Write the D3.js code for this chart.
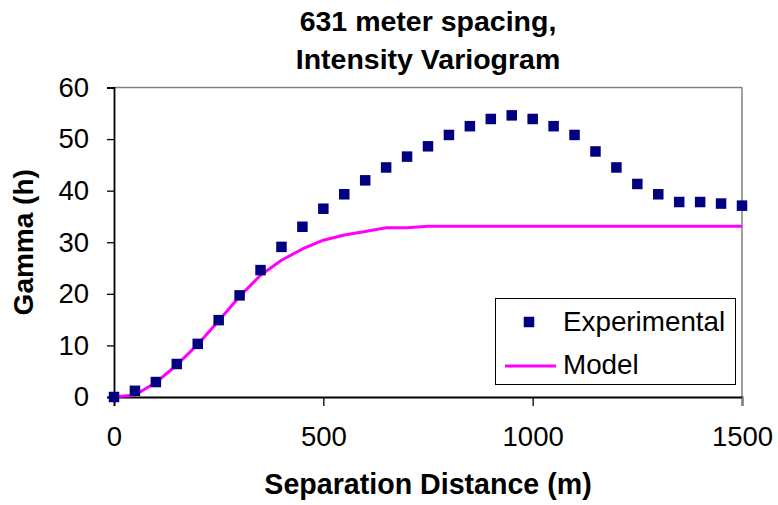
<!DOCTYPE html>
<html>
<head>
<meta charset="utf-8">
<script src="https://cdn.jsdelivr.net/npm/d3@7"></script>
<style>
  html, body { margin: 0; padding: 0; background: #fff; }
  svg { display: block; font-family: "Liberation Sans", Arial, sans-serif; }
</style>
</head>
<body>
<svg id="chart" width="778" height="505"></svg>
<script>
// Lag distances (m) at which the variogram was evaluated
const lags = [0, 50, 100, 150, 200, 250, 300, 350, 400, 450, 500, 550, 600, 650, 700, 750,
              800, 850, 900, 950, 1000, 1050, 1100, 1150, 1200, 1250, 1300, 1350, 1400, 1450, 1500];

// Experimental semivariance gamma(h)
const experimental = [0, 1.2, 2.9, 6.4, 10.3, 14.9, 19.7, 24.6, 29.1, 33.0, 36.5, 39.3, 42.0, 44.5, 46.6, 48.6,
                      50.8, 52.5, 53.9, 54.6, 53.9, 52.5, 50.8, 47.6, 44.5, 41.3, 39.3, 37.8, 37.8, 37.5, 37.1];

// Fitted model gamma(h)
const model = [0, 0.4, 2.8, 6.2, 10.2, 14.8, 19.5, 23.6, 26.5, 28.7, 30.4, 31.4, 32.1, 32.8, 32.8, 33.1,
               33.1, 33.1, 33.1, 33.1, 33.1, 33.1, 33.1, 33.1, 33.1, 33.1, 33.1, 33.1, 33.1, 33.1, 33.1];

const xTicks = [0, 500, 1000, 1500];
const yTicks = [0, 10, 20, 30, 40, 50, 60];
const titleLines = ["631 meter spacing,", "Intensity Variogram"];
const seriesNames = ["Experimental", "Model"];

const svg = d3.select("#chart");
const plot = { left: 114, right: 742, top: 87.5, bottom: 397 };

const x = d3.scaleLinear().domain([0, 1500]).range([plot.left, plot.right]);
const y = d3.scaleLinear().domain([0, 60]).range([plot.bottom, plot.top]);

const navy = "#000080";
const magenta = "#ff00ff";

// Plot frame: grey top/right edges
svg.append("line").attr("x1", plot.left).attr("x2", plot.right)
  .attr("y1", plot.top).attr("y2", plot.top)
  .attr("stroke", "#808080").attr("stroke-width", 1.5);
svg.append("line").attr("x1", plot.right).attr("x2", plot.right)
  .attr("y1", plot.top).attr("y2", plot.bottom)
  .attr("stroke", "#808080").attr("stroke-width", 1.5);

// Axes
const xAxis = svg.append("g")
  .attr("transform", `translate(0,${plot.bottom})`)
  .call(d3.axisBottom(x).tickValues(xTicks).tickSize(9).tickPadding(20).tickFormat(d3.format("d")));
const yAxis = svg.append("g")
  .attr("transform", `translate(${plot.left},0)`)
  .call(d3.axisLeft(y).tickValues(yTicks).tickSize(7).tickPadding(18).tickFormat(d3.format("d")));

[xAxis, yAxis].forEach(g => {
  g.select(".domain").attr("stroke", "#000").attr("stroke-width", 1.8);
  g.selectAll(".tick line").attr("stroke", "#000").attr("stroke-width", 1.3);
  g.selectAll(".tick text").attr("fill", "#000").attr("font-size", 27.5)
    .attr("font-family", "'Liberation Sans', Arial, sans-serif");
});
xAxis.select(".tick:last-of-type line").attr("stroke", "#808080");

// Model curve
svg.append("path")
  .datum(lags.map((h, i) => [h, model[i]]))
  .attr("fill", "none")
  .attr("stroke", magenta)
  .attr("stroke-width", 3)
  .attr("stroke-linejoin", "round")
  .attr("d", d3.line().x(d => x(d[0])).y(d => y(d[1])));

// Experimental points
const sq = 10.5;
svg.append("g").selectAll("rect")
  .data(lags.map((h, i) => [h, experimental[i]]))
  .join("rect")
  .attr("x", d => x(d[0]) - sq / 2)
  .attr("y", d => y(d[1]) - sq / 2)
  .attr("width", sq).attr("height", sq)
  .attr("fill", navy);

// Title
svg.append("text")
  .attr("x", 428).attr("text-anchor", "middle")
  .attr("font-size", 28.5).attr("font-weight", "bold")
  .selectAll("tspan").data(titleLines).join("tspan")
  .attr("x", 428).attr("y", (d, i) => 31 + i * 38)
  .text(d => d);

// Axis titles
svg.append("text")
  .attr("x", 428).attr("y", 494)
  .attr("text-anchor", "middle")
  .attr("font-size", 28.6).attr("font-weight", "bold")
  .text("Separation Distance (m)");
svg.append("text")
  .attr("transform", `translate(33,${(plot.top + plot.bottom) / 2}) rotate(-90)`)
  .attr("text-anchor", "middle")
  .attr("font-size", 28).attr("font-weight", "bold")
  .text("Gamma (h)");

// Legend
const legend = svg.append("g");
legend.append("rect")
  .attr("x", 495.5).attr("y", 298.5).attr("width", 240).attr("height", 86)
  .attr("fill", "#fff").attr("stroke", "#000").attr("stroke-width", 1);
legend.append("rect")
  .attr("x", 529 - sq / 2).attr("y", 322 - sq / 2).attr("width", sq).attr("height", sq)
  .attr("fill", navy);
legend.append("line")
  .attr("x1", 505).attr("x2", 556).attr("y1", 366).attr("y2", 366)
  .attr("stroke", magenta).attr("stroke-width", 3);
legend.selectAll("text.lbl").data(seriesNames).join("text")
  .attr("class", "lbl")
  .attr("x", 563).attr("y", (d, i) => 331 + i * 43)
  .attr("font-size", 27.8)
  .text(d => d);
</script>
</body>
</html>
